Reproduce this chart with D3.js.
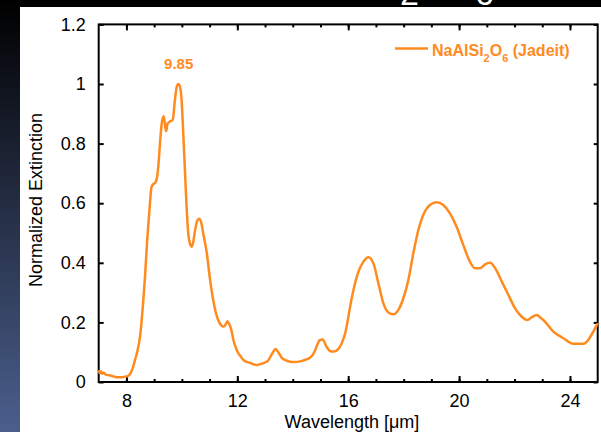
<!DOCTYPE html>
<html>
<head>
<meta charset="utf-8">
<script src="https://cdn.jsdelivr.net/npm/d3@7"></script>
<style>
  body { margin: 0; background: #000; }
  svg { display: block; }
  .tick text { font-family: 'Liberation Sans', Arial, sans-serif; font-size: 18px; fill: #000; }
</style>
</head>
<body>
<div id="chart"></div>
<script>
// spectrum
const wavelength = [7.00, 7.04, 7.08, 7.12, 7.18, 7.25, 7.35, 7.45, 7.55, 7.65, 7.75, 7.85, 7.95, 8.05, 8.15, 8.22,
  8.31, 8.40, 8.49, 8.61, 8.67, 8.75, 8.83, 8.91, 8.97, 9.03, 9.09, 9.15, 9.21, 9.27, 9.31, 9.34, 9.37, 9.41, 9.44,
  9.48, 9.57, 9.67, 9.75, 9.82, 9.87, 9.92, 9.99, 10.05, 10.11, 10.17, 10.23, 10.30, 10.35, 10.41, 10.47, 10.55,
  10.62, 10.69, 10.77, 10.90, 11.02, 11.13, 11.22, 11.31, 11.42, 11.50, 11.58, 11.64, 11.70, 11.77, 11.86, 11.95,
  12.04, 12.13, 12.22, 12.46, 12.70, 12.90, 13.11, 13.25, 13.38, 13.48, 13.60, 13.72, 13.90, 14.08, 14.30, 14.50,
  14.69, 14.80, 14.90, 14.98, 15.08, 15.22, 15.35, 15.46, 15.58, 15.70, 15.80, 15.89, 15.98, 16.07, 16.19, 16.37,
  16.55, 16.73, 16.91, 17.09, 17.27, 17.45, 17.63, 17.81, 17.99, 18.17, 18.35, 18.53, 18.71, 18.95, 19.19, 19.43,
  19.67, 19.91, 20.15, 20.39, 20.57, 20.76, 20.94, 21.12, 21.30, 21.54, 21.78, 22.02, 22.26, 22.46, 22.63, 22.80,
  22.95, 23.04, 23.40, 23.76, 24.12, 24.48, 24.66, 24.84, 25.00];
const extinction = [0.040, 0.030, 0.036, 0.028, 0.031, 0.025, 0.023, 0.021, 0.018, 0.016, 0.016, 0.016, 0.018, 0.020, 0.030, 0.045,
  0.074, 0.105, 0.152, 0.275, 0.353, 0.477, 0.577, 0.656, 0.664, 0.668, 0.680, 0.723, 0.800, 0.865, 0.885, 0.892, 0.880, 0.850, 0.842,
  0.866, 0.874, 0.880, 0.947, 0.993, 1.000, 0.995, 0.947, 0.835, 0.712, 0.588, 0.499, 0.462, 0.454, 0.470, 0.505, 0.540,
  0.548, 0.538, 0.499, 0.432, 0.342, 0.275, 0.235, 0.208, 0.190, 0.186, 0.193, 0.204, 0.196, 0.180, 0.141, 0.114,
  0.096, 0.085, 0.074, 0.064, 0.057, 0.062, 0.072, 0.094, 0.111, 0.100, 0.082, 0.074, 0.068, 0.067, 0.070, 0.076,
  0.087, 0.105, 0.128, 0.141, 0.143, 0.118, 0.104, 0.102, 0.106, 0.118, 0.138, 0.163, 0.205, 0.253, 0.309, 0.370,
  0.404, 0.419, 0.398, 0.331, 0.264, 0.233, 0.227, 0.242, 0.281, 0.342, 0.432, 0.510, 0.561, 0.594, 0.603, 0.594,
  0.566, 0.521, 0.460, 0.404, 0.382, 0.382, 0.395, 0.400, 0.382, 0.337, 0.292, 0.247, 0.219, 0.208, 0.218, 0.225,
  0.215, 0.208, 0.169, 0.147, 0.128, 0.128, 0.141, 0.169, 0.197];

const xMajorTicks = [8, 12, 16, 20, 24];
const xMinorTicks = [8, 9, 10, 11, 12, 13, 14, 15, 16, 17, 18, 19, 20, 21, 22, 23, 24];
const yTicks = [0, 0.2, 0.4, 0.6, 0.8, 1, 1.2];
const peakLabel = { x: 9.85, y: 1, text: '9.85' };

const orange = '#ff8b1f';
const font = "'Liberation Sans', Arial, sans-serif";

const W = 601, H = 432;
const margin = { top: 24.4, right: 3.3, bottom: 50, left: 98.7 };
const width = W - margin.left - margin.right;
const height = 382 - margin.top;

const svg = d3.select('#chart').append('svg')
  .attr('width', W)
  .attr('height', H);

// slide background: dark strip on the left, black band on top
const grad = svg.append('defs').append('linearGradient')
  .attr('id', 'side').attr('x1', 0).attr('y1', 0).attr('x2', 0).attr('y2', 1);
grad.append('stop').attr('offset', '0%').attr('stop-color', '#000');
grad.append('stop').attr('offset', '100%').attr('stop-color', '#4b5f8c');
svg.append('rect').attr('width', W).attr('height', H).attr('fill', '#000');
svg.append('rect').attr('width', 20).attr('height', H).attr('fill', 'url(#side)');

// bottoms of the cut-off title subscripts
svg.append('text').attr('x', 400).attr('y', 5).attr('fill', '#fff')
  .style('font-family', font).style('font-size', '34px').text('2');
svg.append('text').attr('x', 475).attr('y', 5).attr('fill', '#fff')
  .style('font-family', font).style('font-size', '34px').text('6');

svg.append('rect').attr('x', 20).attr('y', 7).attr('width', W - 20).attr('height', H - 7).attr('fill', '#fff');

const g = svg.append('g')
  .attr('transform', `translate(${margin.left},${margin.top})`);

const x = d3.scaleLinear().domain([7, 25]).range([0, width]);
const y = d3.scaleLinear().domain([0, 1.2]).range([height, 0]);

// bottom axis, ticks pointing in
g.append('g')
  .attr('transform', `translate(0,${height})`)
  .call(d3.axisBottom(x).tickValues(xMinorTicks).tickSize(-3).tickFormat(''))
  .call(a => a.select('.domain').remove());
g.append('g')
  .attr('transform', `translate(0,${height})`)
  .call(d3.axisBottom(x).tickValues(xMajorTicks).tickSize(-6).tickPadding(12).tickFormat(d3.format('d')))
  .call(a => a.select('.domain').remove());

// top axis
g.append('g')
  .call(d3.axisTop(x).tickValues(xMinorTicks).tickSize(-3).tickFormat(''))
  .call(a => a.select('.domain').remove());
g.append('g')
  .call(d3.axisTop(x).tickValues(xMajorTicks).tickSize(-6).tickFormat(''))
  .call(a => a.select('.domain').remove());

// left axis
g.append('g')
  .call(d3.axisLeft(y).tickValues(yTicks).tickSize(-5).tickPadding(13).tickFormat(d => +d.toFixed(1)))
  .call(a => a.select('.domain').remove());

// right axis
g.append('g')
  .attr('transform', `translate(${width},0)`)
  .call(d3.axisRight(y).tickValues(yTicks).tickSize(-4).tickFormat(''))
  .call(a => a.select('.domain').remove());

g.selectAll('.tick line').attr('stroke', '#000').attr('stroke-width', 2);

g.append('rect')
  .attr('width', width)
  .attr('height', height)
  .attr('fill', 'none')
  .attr('stroke', '#000')
  .attr('stroke-width', 2);

// spectrum
const pts = wavelength.map((w, i) => [w, extinction[i]]);
const line = d3.line()
  .x(d => x(d[0]))
  .y(d => y(d[1]))
  .curve(d3.curveMonotoneX);

g.append('path')
  .datum(pts)
  .attr('fill', 'none')
  .attr('stroke', orange)
  .attr('stroke-width', 2.5)
  .attr('stroke-linejoin', 'round')
  .attr('d', line);

// peak label
g.append('text')
  .attr('x', x(peakLabel.x) + 1)
  .attr('y', y(peakLabel.y) - 15)
  .attr('text-anchor', 'middle')
  .attr('fill', orange)
  .style('font-family', font)
  .style('font-size', '15px')
  .style('font-weight', 'bold')
  .text(peakLabel.text);

// legend
const lg = svg.append('g');
lg.append('line')
  .attr('x1', 395).attr('x2', 428)
  .attr('y1', 48.5).attr('y2', 48.5)
  .attr('stroke', orange).attr('stroke-width', 2.5);
const lt = lg.append('text')
  .attr('x', 432).attr('y', 56)
  .attr('fill', orange)
  .style('font-family', font)
  .style('font-size', '16px')
  .style('font-weight', 'bold');
lt.append('tspan').text('NaAlSi');
lt.append('tspan').attr('dy', 6).style('font-size', '11px').text('2');
lt.append('tspan').attr('dy', -6).text('O');
lt.append('tspan').attr('dy', 6).style('font-size', '11px').text('6');
lt.append('tspan').attr('dy', -6).text(' (Jadeit)');

// axis titles
svg.append('text')
  .attr('x', 352)
  .attr('y', 428)
  .attr('text-anchor', 'middle')
  .style('font-family', font)
  .style('font-size', '18px')
  .text('Wavelength [μm]');

svg.append('text')
  .attr('transform', 'translate(41.5,200) rotate(-90)')
  .attr('text-anchor', 'middle')
  .style('font-family', font)
  .style('font-size', '18px')
  .text('Normalized Extinction');
</script>
</body>
</html>
